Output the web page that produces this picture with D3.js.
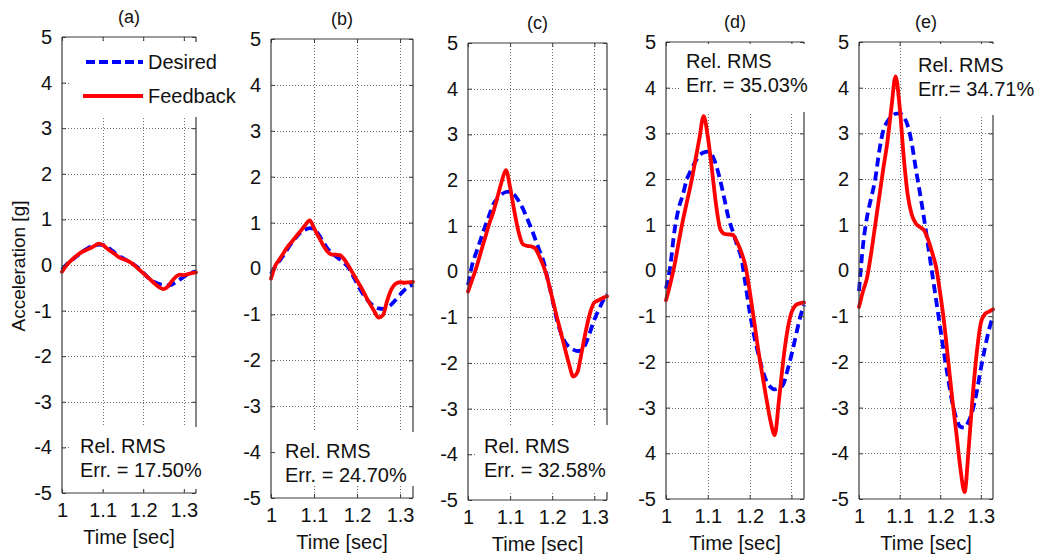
<!DOCTYPE html>
<html>
<head>
<meta charset="utf-8">
<script src="https://cdn.jsdelivr.net/npm/d3@7"></script>
<style>
  html, body { margin: 0; padding: 0; background: #fff; }
  svg { display: block; }
  text { font-family: "Liberation Sans", Arial, sans-serif; fill: #111; }
</style>
</head>
<body>
<svg id="chart" width="1037" height="554"></svg>
<script>
// ---------------- DATA ----------------
const time = [1.00,1.01,1.02,1.03,1.04,1.05,1.06,1.07,1.08,1.09,1.10,1.11,1.12,1.13,1.14,1.15,1.16,1.17,
              1.18,1.19,1.20,1.21,1.22,1.23,1.24,1.25,1.26,1.27,1.28,1.29,1.30,1.31,1.32,1.33];

const desiredA  = [-0.10,0.00,0.08,0.15,0.22,0.29,0.35,0.40,0.43,0.45,0.44,0.40,0.34,0.27,0.20,0.15,0.10,0.05,
                   -0.01,-0.08,-0.17,-0.26,-0.33,-0.38,-0.42,-0.44,-0.45,-0.43,-0.38,-0.32,-0.26,-0.21,-0.17,-0.14];
const feedbackA = [-0.15,-0.02,0.08,0.16,0.23,0.29,0.33,0.37,0.42,0.47,0.44,0.37,0.30,0.24,0.17,0.13,0.10,0.05,
                   -0.02,-0.10,-0.18,-0.26,-0.34,-0.42,-0.49,-0.53,-0.48,-0.36,-0.26,-0.21,-0.22,-0.20,-0.18,-0.16];

const desiredB  = [-0.12,0.05,0.17,0.30,0.45,0.58,0.70,0.79,0.85,0.88,0.86,0.75,0.60,0.45,0.35,0.27,0.20,0.12,
                   0.02,-0.15,-0.33,-0.50,-0.64,-0.75,-0.83,-0.87,-0.88,-0.85,-0.78,-0.68,-0.57,-0.47,-0.40,-0.35];
const feedbackB = [-0.22,0.06,0.20,0.35,0.49,0.60,0.72,0.83,0.95,1.05,0.88,0.70,0.53,0.38,0.31,0.30,0.29,0.20,
                   0.06,-0.10,-0.26,-0.42,-0.60,-0.77,-0.93,-1.07,-1.02,-0.70,-0.45,-0.33,-0.30,-0.31,-0.30,-0.29];

const desiredC  = [-0.30,0.15,0.43,0.70,0.97,1.22,1.47,1.60,1.69,1.74,1.75,1.68,1.55,1.38,1.17,0.95,0.70,0.45,
                   0.20,-0.20,-0.60,-1.02,-1.33,-1.54,-1.65,-1.71,-1.74,-1.72,-1.57,-1.32,-1.05,-0.85,-0.65,-0.50];
const feedbackC = [-0.44,-0.18,0.09,0.41,0.72,1.03,1.30,1.63,1.97,2.22,1.84,1.32,0.87,0.60,0.56,0.55,0.50,0.32,
                   0.10,-0.20,-0.58,-0.96,-1.32,-1.68,-2.03,-2.30,-2.20,-1.76,-1.29,-0.90,-0.68,-0.63,-0.58,-0.54];

const desiredD  = [-0.40,0.08,0.85,1.35,1.65,2.00,2.20,2.38,2.52,2.58,2.60,2.53,2.30,1.96,1.55,1.13,0.85,0.55,
                   0.28,-0.30,-0.90,-1.40,-1.80,-2.15,-2.42,-2.55,-2.60,-2.57,-2.50,-2.20,-1.85,-1.45,-1.05,-0.75];
const feedbackD = [-0.65,-0.30,0.10,0.60,1.08,1.50,1.92,2.40,2.90,3.38,2.93,2.20,1.42,0.90,0.80,0.79,0.78,0.62,
                   0.40,0.10,-0.44,-1.06,-1.70,-2.26,-2.80,-3.30,-3.60,-2.85,-2.00,-1.33,-0.92,-0.76,-0.72,-0.70];

const desiredE  = [-0.45,0.56,1.18,1.59,2.00,2.62,3.07,3.26,3.37,3.43,3.44,3.36,3.17,2.78,2.22,1.70,1.15,0.55,
                   -0.05,-0.65,-1.25,-1.85,-2.40,-2.90,-3.25,-3.42,-3.44,-3.30,-3.05,-2.65,-2.15,-1.70,-1.30,-1.00];
const feedbackE = [-0.80,-0.45,-0.15,0.38,1.00,1.62,2.24,2.82,3.58,4.25,3.60,2.50,1.65,1.22,1.03,0.95,0.88,0.68,
                   0.40,0.07,-0.50,-1.17,-2.00,-2.83,-3.57,-4.35,-4.85,-3.90,-2.75,-1.80,-1.15,-0.95,-0.90,-0.85];

const panelTitles   = ["(a)", "(b)", "(c)", "(d)", "(e)"];
const rmsLine1      = ["Rel. RMS", "Rel. RMS", "Rel. RMS", "Rel. RMS", "Rel. RMS"];
const rmsLine2      = ["Err. = 17.50%", "Err. = 24.70%", "Err. = 32.58%", "Err. = 35.03%", "Err.= 34.71%"];
const yTickValues   = [-5, -4, -3, -2, -1, 0, 1, 2, 3, 4, 5];
const yTickLabels   = ["-5", "-4", "-3", "-2", "-1", "0", "1", "2", "3", "4", "5"];
const yTickLabelsD  = ["-5", "4", "-3", "-2", "-1", "0", "1", "2", "3", "4", "5"];
const xTickValues   = [1, 1.1, 1.2, 1.3];
const xTickLabels   = ["1", "1.1", "1.2", "1.3"];
const seriesNames   = ["Desired", "Feedback"];
const xLabel = "Time [sec]";
const yLabel = "Acceleration [g]";

// ---------------- LAYOUT ----------------
const panels = [
  {L: 62,  R: 196, T: 37, B: 493, desired: desiredA, feedback: feedbackA, yt: yTickLabels,
   box: {x: 70, y: 427, w: 137, h: 62}, tx: 80, ty: 453},
  {L: 271, R: 413, T: 39, B: 498, desired: desiredB, feedback: feedbackB, yt: yTickLabels,
   box: {x: 276, y: 432, w: 140, h: 54}, tx: 285, ty: 458},
  {L: 468, R: 607, T: 43, B: 500, desired: desiredC, feedback: feedbackC, yt: yTickLabels,
   box: {x: 476, y: 425, w: 140, h: 67}, tx: 484, ty: 453},
  {L: 666, R: 804, T: 42, B: 499, desired: desiredD, feedback: feedbackD, yt: yTickLabelsD,
   box: {x: 680, y: 44, w: 140, h: 68}, tx: 686, ty: 68},
  {L: 859, R: 993, T: 42, B: 499, desired: desiredE, feedback: feedbackE, yt: yTickLabels,
   box: {x: 903, y: 44, w: 134, h: 71}, tx: 918, ty: 72}
];

const AXIS_COLOR = "#3a3a3a";
const GRID_COLOR = "#707070";
const BLUE = "#0000ff";
const RED = "#ff0000";
const TICK_FONT = "20px";
const TEXT_FONT = "20px";
const LINE_W = 3.8;

const svg = d3.select("#chart");

panels.forEach((p, i) => {
  const x = d3.scaleLinear().domain([1, 1.33]).range([p.L, p.R]);
  const y = d3.scaleLinear().domain([-5, 5]).range([p.B, p.T]);
  const g = svg.append("g");

  // grid
  const grid = g.append("g");
  grid.selectAll("line.vg").data(xTickValues.slice(1)).join("line")
    .attr("x1", d => Math.round(x(d)) + 0.5).attr("x2", d => Math.round(x(d)) + 0.5)
    .attr("y1", p.T).attr("y2", p.B)
    .attr("stroke", GRID_COLOR).attr("stroke-width", 1).attr("stroke-dasharray", "1,2");
  grid.selectAll("line.hg").data(yTickValues.slice(1, -1)).join("line")
    .attr("y1", d => Math.round(y(d)) + 0.5).attr("y2", d => Math.round(y(d)) + 0.5)
    .attr("x1", p.L).attr("x2", p.R)
    .attr("stroke", GRID_COLOR).attr("stroke-width", 1).attr("stroke-dasharray", "1,2");

  // data lines
  const line = arr => d3.line()
    .x((d, k) => x(time[k]))
    .y(d => y(d))
    .curve(d3.curveMonotoneX)(arr);

  g.append("path").attr("d", line(p.desired))
    .attr("fill", "none").attr("stroke", BLUE).attr("stroke-width", LINE_W)
    .attr("stroke-dasharray", "9,5");
  g.append("path").attr("d", line(p.feedback))
    .attr("fill", "none").attr("stroke", RED).attr("stroke-width", LINE_W)
    .attr("stroke-linejoin", "round").attr("stroke-linecap", "round");

  // axes (ticks inward on all four sides)
  const yFmt = (d) => p.yt[yTickValues.indexOf(d)];
  const xFmt = (d) => xTickLabels[xTickValues.indexOf(d)];

  const axL = g.append("g").attr("transform", `translate(${p.L},0)`)
    .call(d3.axisLeft(y).tickValues(yTickValues).tickFormat(yFmt).tickSizeInner(-4).tickSizeOuter(0).tickPadding(10));
  const axR = g.append("g").attr("transform", `translate(${p.R},0)`)
    .call(d3.axisRight(y).tickValues(yTickValues).tickFormat("").tickSizeInner(-4).tickSizeOuter(0));
  const axB = g.append("g").attr("transform", `translate(0,${p.B})`)
    .call(d3.axisBottom(x).tickValues(xTickValues).tickFormat(xFmt).tickSizeInner(-4).tickSizeOuter(0).tickPadding(10));
  const axT = g.append("g").attr("transform", `translate(0,${p.T})`)
    .call(d3.axisTop(x).tickValues(xTickValues).tickFormat("").tickSizeInner(-4).tickSizeOuter(0));
  [axL, axR, axB, axT].forEach(a => {
    a.select(".domain").attr("stroke", AXIS_COLOR).attr("stroke-width", 1.2);
    a.selectAll(".tick line").attr("stroke", AXIS_COLOR);
    a.selectAll(".tick text").style("font-size", TICK_FONT)
      .style("font-family", '"Liberation Sans", Arial, sans-serif').attr("fill", "#111");
  });
  axL.select(".domain").attr("d", `M0,${p.T}V${p.B}`);
  axR.select(".domain").attr("d", `M0,${p.T}V${p.B}`);
  axB.select(".domain").attr("d", `M${p.L},0H${p.R}`);
  axT.select(".domain").attr("d", `M${p.L},0H${p.R}`);

  // title
  g.append("text").attr("x", (p.L + p.R) / 2).attr("y", p.T - 14)
    .attr("text-anchor", "middle").style("font-size", "18px").text(panelTitles[i]);

  // x label
  g.append("text").attr("x", (p.L + p.R) / 2).attr("y", p.B + 51)
    .attr("text-anchor", "middle").style("font-size", TEXT_FONT).text(xLabel);

  // annotation box + text
  g.append("rect").attr("x", p.box.x).attr("y", p.box.y)
    .attr("width", p.box.w).attr("height", p.box.h).attr("fill", "#fff");
  g.append("text").attr("x", p.tx).attr("y", p.ty).style("font-size", TEXT_FONT).text(rmsLine1[i]);
  g.append("text").attr("x", p.tx).attr("y", p.ty + 24).style("font-size", TEXT_FONT).text(rmsLine2[i]);

  // legend in first panel
  if (i === 0) {
    const lg = g.append("g");
    lg.append("rect").attr("x", 70).attr("y", 42).attr("width", 168).attr("height", 75).attr("fill", "#fff");
    lg.append("line").attr("x1", 86).attr("x2", 143).attr("y1", 62).attr("y2", 62)
      .attr("stroke", BLUE).attr("stroke-width", LINE_W).attr("stroke-dasharray", "9,4");
    lg.append("line").attr("x1", 83).attr("x2", 143).attr("y1", 96).attr("y2", 96)
      .attr("stroke", RED).attr("stroke-width", LINE_W);
    lg.append("text").attr("x", 148).attr("y", 69).style("font-size", TEXT_FONT).text(seriesNames[0]);
    lg.append("text").attr("x", 148).attr("y", 103).style("font-size", TEXT_FONT).text(seriesNames[1]);
  }
});

// y label
svg.append("text")
  .attr("transform", `translate(25,266) rotate(-90)`)
  .attr("text-anchor", "middle").style("font-size", "19px").text(yLabel);
</script>
</body>
</html>
